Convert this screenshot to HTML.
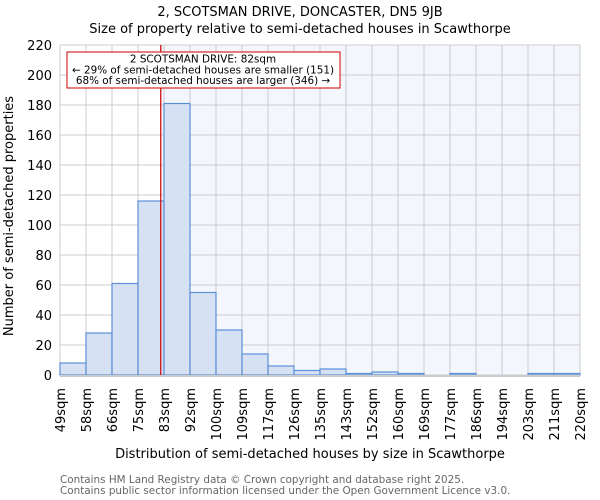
<!DOCTYPE html>
<html><head><meta charset="utf-8"><style>
body{margin:0;background:#fff;}
svg{display:block;font-family:"DejaVu Sans","Liberation Sans",sans-serif;}
</style></head><body>
<svg id="chart" width="600" height="500" viewBox="0 0 600 500">
<text x="300" y="16" text-anchor="middle" font-size="13">2, SCOTSMAN DRIVE, DONCASTER, DN5 9JB</text>
<text x="300" y="33" text-anchor="middle" font-size="13">Size of property relative to semi-detached houses in Scawthorpe</text>
<g id="plot"></g>
<text x="310" y="458" text-anchor="middle" font-size="13">Distribution of semi-detached houses by size in Scawthorpe</text>
<text transform="translate(13,216) rotate(-90)" text-anchor="middle" font-size="13">Number of semi-detached properties</text>
<text x="60" y="483" font-size="10.4" fill="#666">Contains HM Land Registry data © Crown copyright and database right 2025.</text>
<text x="60" y="494" font-size="10.4" fill="#666">Contains public sector information licensed under the Open Government Licence v3.0.</text>
</svg>
<script>
const binLabels=["49sqm","58sqm","66sqm","75sqm","83sqm","92sqm","100sqm","109sqm","117sqm","126sqm","135sqm","143sqm","152sqm","160sqm","169sqm","177sqm","186sqm","194sqm","203sqm","211sqm","220sqm"];
const counts=[8,28,61,116,181,55,30,14,6,3,4,1,2,1,0,1,0,0,1,1];
const yTicks=[0,20,40,60,80,100,120,140,160,180,200,220];
const propertyBinPos=3.875;
const ns="http://www.w3.org/2000/svg";
const g=document.getElementById('plot');
const X0=60,X1=580,Y0=375,Y1=45,yMax=220;
const bw=(X1-X0)/counts.length;
const x=i=>X0+i*bw;
const y=v=>Y0-(v/yMax)*(Y0-Y1);
function mk(t,a){const e=document.createElementNS(ns,t);for(const k in a)e.setAttribute(k,a[k]);g.appendChild(e);return e;}
const px=x(propertyBinPos);
let e=mk('rect',{x:X0,y:Y1,width:px-X0,height:Y0-Y1,fill:'#ffffff'});


e=mk('rect',{x:px,y:Y1,width:X1-px,height:Y0-Y1,fill:'#f3f6fd'});


yTicks.forEach(t=>{
 const l=mk('line',{x1:X0,x2:X1,y1:y(t),y2:y(t),stroke:'#cccccc','stroke-width':1});
 
 
 const tx=mk('text',{x:X0-8,y:y(t)+5,'text-anchor':'end','font-size':13});
 tx.textContent=t;
 
 
});
binLabels.forEach((lb,i)=>{
 const l=mk('line',{x1:x(i),x2:x(i),y1:Y1,y2:Y0,stroke:'#cccccc','stroke-width':1});
 
 
 const tx=mk('text',{transform:`translate(${x(i)+5},388) rotate(-90)`,'text-anchor':'end','font-size':13});
 tx.textContent=lb;
 
 
});
counts.forEach((c,i)=>{
 if(c<=0)return;
 const r=mk('rect',{x:x(i),y:y(c),width:bw,height:Y0-y(c),fill:'#d6e2f4',stroke:'#5b8fd6','stroke-width':1.2});
 
 
});
e=mk('line',{x1:X0,x2:X1,y1:Y0+1,y2:Y0+1,stroke:'#cccccc','stroke-width':2});


e=mk('line',{x1:px,x2:px,y1:Y1,y2:Y0,stroke:'#cc0000','stroke-width':1.2});


e=mk('rect',{x:67,y:52,width:273,height:36,fill:'#fff',stroke:'#cc0000','stroke-width':1});


const ann=["2 SCOTSMAN DRIVE: 82sqm","← 29% of semi-detached houses are smaller (151)","68% of semi-detached houses are larger (346) →"];
ann.forEach((s,i)=>{
 const t=mk('text',{x:203,y:62.5+i*10.8,'text-anchor':'middle','font-size':10.4});
 t.textContent=s;
 
 
});
</script>
</body></html>
